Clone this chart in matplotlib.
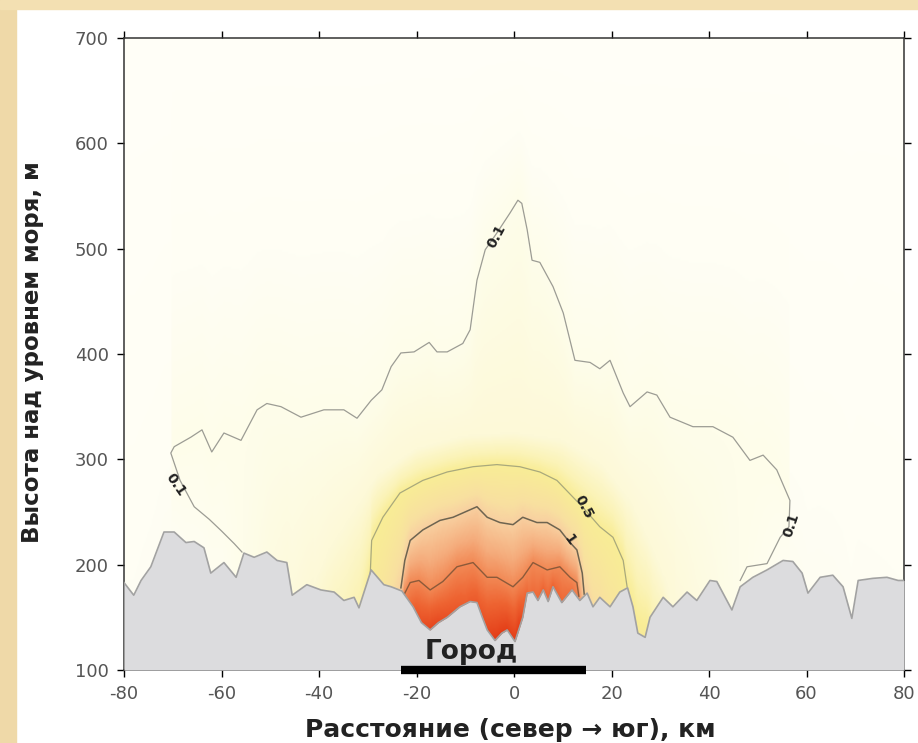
import matplotlib
matplotlib.use("Agg")
import matplotlib.pyplot as plt
import numpy as np
from matplotlib.colors import LinearSegmentedColormap
from matplotlib.patches import Rectangle

plt.rcParams['axes.unicode_minus'] = False

# terrain along the north-south section (km, m a.s.l.)
terrain_x = [-80, -78, -76.5, -74.5, -71.8, -69.7, -67.3, -65.6, -63.6, -62.2, -59.5, -57, -55.4,
             -53.3, -50.7, -48.6, -46.6, -45.5, -42.5, -39.6, -36.9, -34.9, -32.8, -31.8, -29.3,
             -26.7, -25.2, -23, -20.7, -19, -17.2, -15.5, -13.7, -11.1, -9, -7.6, -6.5, -5.5,
             -3.9, -2.5, -1.4, 0.2, 1.8, 2.7, 3.9, 4.9, 6.0, 7.0, 8.0, 9.8, 11.9, 13.5, 15,
             16.2, 17.6, 19.7, 21.7, 23.3, 24.4, 25.4, 26.9, 27.9, 30.6, 32.6, 35.5, 37.5, 40.2,
             41.6, 44.7, 46.4, 49, 51.9, 55.2, 57.2, 59.1, 60.3, 62.8, 65.4, 67.5, 69.3, 70.6,
             73.6, 76.5, 78.8, 80]
terrain_z = [183, 171, 185, 198, 231, 231, 221, 222, 216, 192, 202, 188, 211,
             207, 212, 204, 202, 171, 181, 176, 174, 166, 169, 159, 195,
             181, 179, 175, 160, 145, 138, 145, 150, 160, 165, 164, 150, 138,
             128, 135, 138, 127, 150, 173, 174, 166, 176, 165, 179, 164, 176, 166, 173,
             160, 169, 160, 174, 178, 160, 135, 131, 150, 169, 160, 174, 166, 185,
             184, 157, 179, 188, 195, 204, 203, 192, 173, 188, 190, 179, 149, 185,
             187, 188, 185, 185]

# concentration at ground level
surf_x = [-80, -60, -55.8, -50, -40, -33, -29.5, -26, -23.2, -22.5, -20, -17, -14, -10, -7,
          -4, -1, 1, 3, 6, 9, 12, 13.3, 14.4, 17, 21, 23.2, 25.5, 27, 28.5, 32, 40, 46.4, 55, 80]
surf_c = [0.06, 0.075, 0.1, 0.14, 0.22, 0.33, 0.5, 0.7, 1.0, 2.1, 3.5, 4.5, 3.8, 3.2, 3.5,
          5.0, 4.8, 5.0, 2.6, 3.0, 3.0, 2.5, 2.1, 1.0, 0.8, 0.62, 0.5, 0.55, 0.55, 0.35, 0.2,
          0.13, 0.1, 0.07, 0.06]
top_c = 0.03  # value at the upper edge (700 m)

# isolines
iso01_x = [-55.8, -57.4, -60, -62.5, -65.6, -66.3, -68.5, -70.4, -69.7, -66.3, -64, -62, -59.5,
           -56, -52.7, -50.7, -47.8, -43.7, -39, -34.9, -32.2, -29.3, -27.1, -25.2, -23.2,
           -20.5, -17.4, -15.8, -13.7, -10.5, -9.0, -7.6, -5.9, -3.5, -0.8, 0.8, 1.6, 2.7,
           3.7, 5.3, 8.0, 10.1, 12.5, 15.6, 17.6, 19.7, 22.4, 23.8, 27.3, 29.3, 32, 36.7,
           40.8, 44.9, 48.4, 51.1, 53.9, 56.6, 56.4, 54.6, 51.9, 47.8, 46.4]
iso01_z = [212, 220, 232, 243, 255, 261, 280, 306, 312, 321, 328, 307, 325,
           318, 347, 353, 350, 340, 347, 347, 339, 356, 366, 388, 401,
           402, 411, 402, 402, 410, 423, 470, 499, 515, 534, 546, 543, 518,
           489, 487, 464, 439, 394, 392, 386, 394, 363, 350, 364, 361, 340, 331,
           331, 321, 299, 304, 290, 261, 236, 226, 201, 198, 185]

# faint 0.2 level (shading only, not drawn as a line)
iso02_x = [-42, -38, -33, -28, -20, -10, 0, 10, 18, 24, 28, 33]
iso02_z = [170, 215, 250, 285, 310, 322, 325, 318, 295, 260, 220, 165]

iso05_x = [-29.5, -29.2, -26.9, -23.4, -18.7, -13.7, -8.4, -3.5, 1.2, 5.3, 8.8, 14.2, 17.6,
           20.3, 22.4, 23.2]
iso05_z = [190, 223, 245, 268, 280, 288, 293, 295, 293, 288, 280, 254, 236, 226, 204, 179]

iso1_x = [-23.2, -22.4, -21.3, -18.7, -15.2, -12.5, -7.6, -5.5, -2.9, -0.2, 1.8, 4.7, 6.8,
          9.4, 11.1, 12.9, 14.0, 14.4]
iso1_z = [178, 204, 223, 233, 242, 245, 255, 245, 240, 238, 245, 240, 240, 233, 223, 214,
          192, 172]

iso2_x = [-22.5, -21.3, -19.5, -17.2, -14.6, -11.7, -8.4, -5.5, -3.5, -0.2, 1.8, 3.9, 6.8,
          9.4, 11.5, 12.9, 13.3]
iso2_z = [172, 183, 185, 176, 184, 198, 202, 188, 188, 179, 188, 202, 195, 198, 188, 183, 170]

city = (-23.2, 14.8)

# colour scale for concentration
cmap_c = [0.02, 0.06, 0.1, 0.2, 0.35, 0.5, 0.8, 1.0, 1.5, 2.0, 3.0, 5.0]
cmap_col = ['#fffffa', '#fffef4', '#fefdea', '#fdf9d8', '#fbf3b6', '#f9ed96', '#f8e0a0',
            '#f8d0a0', '#f5ac7c', '#f28a56', '#ee6432', '#e43e18']
lo, hi = np.log10(cmap_c[0]), np.log10(cmap_c[-1])
pos = [(np.log10(c) - lo) / (hi - lo) for c in cmap_c]
cmap = LinearSegmentedColormap.from_list('plume', list(zip(pos, cmap_col)))

# build the field column by column from the isoline heights
xg = np.linspace(-80, 80, 641)
zg = np.linspace(100, 700, 301)
tg = np.interp(xg, terrain_x, terrain_z)
cg = 10 ** np.interp(xg, surf_x, np.log10(surf_c))


def upper_branch(xs, zs):
    xs, zs = np.asarray(xs), np.asarray(zs)
    i0, i1 = np.argmin(xs), np.argmax(xs)
    return xs[i0:i1 + 1], zs[i0:i1 + 1]


lines = [(2.0, iso2_x, iso2_z), (1.0, iso1_x, iso1_z), (0.5, iso05_x, iso05_z),
         (0.2, iso02_x, iso02_z), (0.1,) + upper_branch(iso01_x, iso01_z)]

field = np.zeros((len(zg), len(xg)))
for j, x in enumerate(xg):
    zk = [tg[j]]
    ck = [cg[j]]
    for lvl, lx, lz in lines:
        if min(lx) <= x <= max(lx):
            h = np.interp(x, lx, lz)
            if h > zk[-1] + 1:
                zk.append(h)
                ck.append(lvl)
    zk.append(700)
    ck.append(top_c)
    field[:, j] = np.interp(zg, zk, np.log10(ck))

fig = plt.figure(figsize=(9.18, 7.43), dpi=100)
fig.patches.append(Rectangle((0, 0), 16 / 918, 1, transform=fig.transFigure,
                             color='#efd9a8', zorder=-10))
fig.patches.append(Rectangle((0, 1 - 9 / 743), 1, 9 / 743, transform=fig.transFigure,
                             color='#f3e0b2', zorder=-10))

ax = fig.add_axes([124 / 918, 73 / 743, 780 / 918, 632 / 743])
ax.imshow(field, extent=(-80, 80, 100, 700), origin='lower', aspect='auto',
          cmap=cmap, vmin=lo, vmax=hi, interpolation='bilinear', zorder=0)

ax.plot(iso01_x, iso01_z, color='#9c9c94', lw=0.9, zorder=2)
ax.plot(iso05_x, iso05_z, color='#a9a97c', lw=0.9, zorder=2)
ax.plot(iso1_x, iso1_z, color='#6e6450', lw=1.1, zorder=2)
ax.plot(iso2_x, iso2_z, color='#8c5a3a', lw=1.0, zorder=2)

ax.fill_between(terrain_x, 100, terrain_z, color='#dcdcde', lw=0, zorder=3)
ax.plot(terrain_x, terrain_z, color='#a2a2a2', lw=1.2, zorder=3)

lab = dict(fontsize=10, fontweight='bold', color='#222222', ha='center', va='center',
           zorder=5)
ax.text(-69.4, 276, '0.1', rotation=-55, **lab)
ax.text(-3.6, 512, '0.1', rotation=62, **lab)
ax.text(56.8, 238, '0.1', rotation=72, **lab)
ax.text(14.3, 255, '0.5', rotation=-62, **lab)
ax.text(11.3, 224, '1', rotation=-55, **lab)

ax.text(-8.8, 117, 'Город', fontsize=19, fontweight='bold', color='#222222',
        ha='center', va='center', zorder=5)
ax.plot(city, [100, 100], color='black', lw=6, solid_capstyle='butt', clip_on=False,
        zorder=6)

ax.set_xlim(-80, 80)
ax.set_ylim(100, 700)
ax.set_xticks(np.arange(-80, 81, 20))
ax.set_yticks(np.arange(100, 701, 100))
ax.tick_params(direction='out', length=5, width=1, top=True, right=True,
               labelsize=13, labelcolor='#555555', pad=6)
for s in ax.spines.values():
    s.set_color('#333333')
    s.set_linewidth(1.1)

fig.text(510 / 918, 1 - 730 / 743, 'Расстояние (север → юг), км', fontsize=18,
         fontweight='bold', color='#222222', ha='center', va='center')
fig.text(33 / 918, 1 - 352 / 743, 'Высота над уровнем моря, м', fontsize=16.5,
         fontweight='bold', color='#222222', ha='center', va='center', rotation=90)

fig.savefig('out.png', dpi=100)
